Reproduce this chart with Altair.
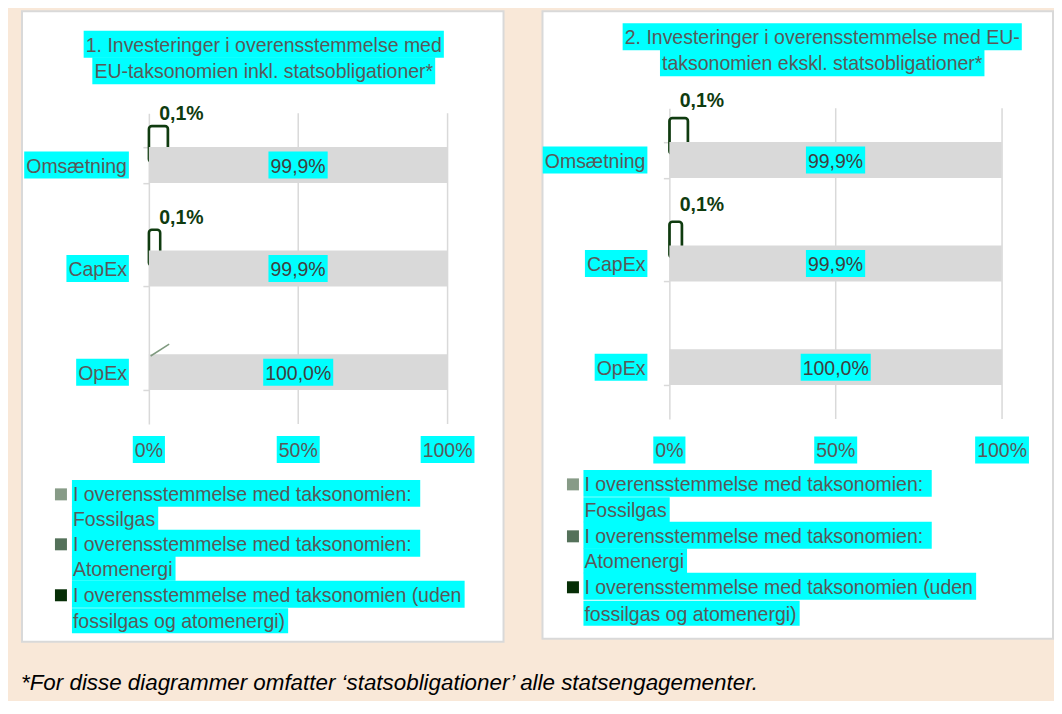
import altair as alt
import pandas as pd

# ---------------- data ----------------
categories = ["Omsætning", "CapEx", "OpEx"]

p1_title = ["1. Investeringer i overensstemmelse med", "EU-taksonomien inkl. statsobligationer*"]
p1_aligned = [0.001, 0.001, 0.0]
p1_aligned_text = ["0,1%", "0,1%", ""]
p1_aligned_drawn = [0.064, 0.038, 0.0]   # extent of the outlined bar as drawn in the picture
p1_rest = [0.999, 0.999, 1.0]
p1_rest_text = ["99,9%", "99,9%", "100,0%"]

p2_title = ["2. Investeringer i overensstemmelse med EU-", "taksonomien ekskl. statsobligationer*"]
p2_aligned = [0.001, 0.001, 0.0]
p2_aligned_text = ["0,1%", "0,1%", ""]
p2_aligned_drawn = [0.056, 0.038, 0.0]
p2_rest = [0.999, 0.999, 1.0]
p2_rest_text = ["99,9%", "99,9%", "100,0%"]

tick_values = [0.0, 0.5, 1.0]
tick_text = ["0%", "50%", "100%"]

legend_text = [
    ["I overensstemmelse med taksonomien: ", "Fossilgas"],
    ["I overensstemmelse med taksonomien: ", "Atomenergi"],
    ["I overensstemmelse med taksonomien (uden", "fossilgas og atomenergi)"],
]
legend_colors = ["#879B87", "#54715A", "#062E06"]

footnote = "*For disse diagrammer omfatter \u2018statsobligationer\u2019 alle statsengagementer."

# ---------------- style ----------------
FONT = "Liberation Sans"
FS = 19.5
TXT = "#595959"
CYAN = "#00FFFF"
GRID = "#D9D9D9"
DARK = "#0F3B0F"
PEACH = "#F9E8D8"

W_ARIAL = {
    " ": 278, "!": 278, "%": 889, "(": 333, ")": 333, "*": 389, ",": 278, "-": 333, ".": 278,
    ":": 278, "0": 556, "1": 556, "2": 556, "3": 556, "4": 556, "5": 556, "6": 556, "7": 556,
    "8": 556, "9": 556, "A": 667, "B": 667, "C": 722, "D": 722, "E": 667, "F": 611, "G": 778,
    "H": 722, "I": 278, "J": 500, "K": 667, "L": 556, "M": 833, "N": 722, "O": 778, "P": 667,
    "Q": 778, "R": 722, "S": 667, "T": 611, "U": 722, "V": 667, "W": 944, "X": 667, "Y": 667,
    "Z": 611, "a": 556, "b": 556, "c": 500, "d": 556, "e": 556, "f": 278, "g": 556, "h": 556,
    "i": 222, "j": 222, "k": 500, "l": 222, "m": 833, "n": 556, "o": 556, "p": 556, "q": 556,
    "r": 333, "s": 500, "t": 278, "u": 556, "v": 500, "w": 722, "x": 500, "y": 500, "z": 500,
    "æ": 889, "ø": 611, "å": 556, "\u2018": 222, "\u2019": 222,
}


def tw(s, fs=FS):
    return sum(W_ARIAL.get(c, 556) for c in s) * fs / 1000.0


def rect_path(w, h, anchor="center"):
    x0 = {"center": -w / 2, "left": 0.0, "right": -w}[anchor]
    y0 = -h / 2
    return f"M{x0:.2f},{y0:.2f}h{w:.2f}v{h:.2f}h{-w:.2f}Z"


HL = dict(filled=True, fill=CYAN, opacity=1, strokeWidth=0, size=4)
TXTMARK = dict(font=FONT, fontSize=FS, color=TXT, baseline="middle")
BOXH = 27
TDY = 1.5


def box_layer(cx, cy, text, anchor="center", h=BOXH):
    w = tw(text) + 4
    return alt.Chart(pd.DataFrame({"t": [text]})).mark_point(**HL).encode(
        x=alt.value(cx), y=alt.value(cy), shape=alt.value(rect_path(w, h, anchor))
    )


def text_layer(cx, cy, text, align="center", **kw):
    style = dict(TXTMARK)
    style.update(kw)
    return alt.Chart(pd.DataFrame({"t": [text]})).mark_text(align=align, dy=TDY, **style).encode(
        x=alt.value(cx), y=alt.value(cy), text="t:N"
    )


def panel(P):
    xs = alt.Scale(domain=[0, 1], range=[P["x0"], P["x1"]], nice=False, zero=False)
    ys = alt.Scale(domain=categories, range=[P["yt"], P["yb"]], paddingInner=0.653, paddingOuter=0.3265)
    yax = alt.Axis(labels=False, title=None, grid=False, tickBand="extent", offset=-P["x0"],
                   domainColor=GRID, domainWidth=1.5, tickColor=GRID, tickWidth=1.5, tickSize=6)

    def Y():
        return alt.Y("cat:N", scale=ys, axis=yax)

    df = pd.DataFrame({
        "cat": categories,
        "aligned": P["aligned"],
        "aligned_text": P["aligned_text"],
        "drawn": P["drawn"],
        "rest": P["rest"],
        "rest_text": P["rest_text"],
    })
    df["box"] = [rect_path(tw(t) + 4, BOXH) for t in df["rest_text"]]
    df["catbox"] = [rect_path(tw(t) + 4, BOXH, "right") for t in df["cat"]]

    ticks = pd.DataFrame({"v": tick_values, "lab": tick_text})
    ticks["box"] = [rect_path(tw(t) + 4, BOXH) for t in tick_text]

    layers = []
    layers.append(
        alt.Chart(ticks).transform_filter("datum.v > 0").mark_rule(color=GRID, strokeWidth=1.5).encode(
            x=alt.X("v:Q", scale=xs, axis=None), y=alt.value(P["yt"]), y2=alt.value(P["yb"]))
    )
    layers.append(
        alt.Chart(df).transform_filter("datum.drawn > 0").mark_bar(
            fillOpacity=0, stroke=DARK, strokeWidth=2.5, yOffset=P["goff"], cornerRadius=3
        ).encode(x=alt.X("drawn:Q", scale=xs, axis=None), y=Y())
    )
    layers.append(
        alt.Chart(df).mark_bar(color="#D9D9D9").encode(x=alt.X("rest:Q", scale=xs, axis=None), y=Y())
    )
    layers.append(
        alt.Chart(df).transform_calculate(mid="datum.rest / 2").mark_point(**HL).encode(
            x=alt.X("mid:Q", scale=xs, axis=None), y=Y(),
            shape=alt.Shape("box:N", scale=None, legend=None))
    )
    layers.append(
        alt.Chart(df).transform_calculate(mid="datum.rest / 2").mark_text(
            align="center", dy=TDY, font=FONT, fontSize=FS, color="#404040", baseline="middle"
        ).encode(x=alt.X("mid:Q", scale=xs, axis=None), y=Y(), text="rest_text:N")
    )
    layers.append(
        alt.Chart(df).transform_filter("datum.aligned_text != ''").mark_text(
            align="left", dx=10, dy=P["ldy"], font=FONT, fontSize=FS, fontWeight="bold",
            color=DARK, baseline="middle"
        ).encode(x=alt.X("aligned:Q", scale=xs, axis=None), y=Y(), text="aligned_text:N")
    )
    layers.append(
        alt.Chart(df).mark_point(**HL).encode(
            x=alt.value(P["ylab"]), y=Y(), shape=alt.Shape("catbox:N", scale=None, legend=None))
    )
    layers.append(
        alt.Chart(df).mark_text(align="right", dx=-2, dy=TDY, **TXTMARK).encode(
            x=alt.value(P["ylab"]), y=Y(), text="cat:N")
    )
    layers.append(
        alt.Chart(ticks).mark_point(**HL).encode(
            x=alt.X("v:Q", scale=xs, axis=None), y=alt.value(P["xlab"]),
            shape=alt.Shape("box:N", scale=None, legend=None))
    )
    layers.append(
        alt.Chart(ticks).mark_text(align="center", dy=TDY, **TXTMARK).encode(
            x=alt.X("v:Q", scale=xs, axis=None), y=alt.value(P["xlab"]), text="lab:N")
    )
    for line, ty in zip(P["title"], P["title_y"]):
        layers.append(box_layer(P["title_x"], ty, line))
        layers.append(text_layer(P["title_x"], ty, line))
    for (l1, l2), col, (y1, y2) in zip(legend_text, legend_colors, P["leg_y"]):
        layers.append(
            alt.Chart(pd.DataFrame({"c": [col]})).mark_square(size=144, filled=True, opacity=1).encode(
                x=alt.value(P["leg_sq"]), y=alt.value(y1 + 1), color=alt.Color("c:N", scale=None))
        )
        layers.append(box_layer(P["leg_tx"], y1, l1, "left", 27))
        layers.append(box_layer(P["leg_tx"], y2, l2, "left", 25))
        layers.append(text_layer(P["leg_tx"] + 1, y1, l1, "left"))
        layers.append(text_layer(P["leg_tx"] + 1, y2, l2, "left"))
    if P.get("leader"):
        layers.append(
            alt.Chart(pd.DataFrame({"a": [0.006], "b": [0.068]})).mark_rule(
                color="#7F9A7F", strokeWidth=1.5).encode(
                x=alt.X("a:Q", scale=xs, axis=None), x2="b:Q",
                y=alt.value(345), y2=alt.value(333))
        )
    return alt.layer(*layers).properties(width=P["W"], height=P["H"])


P1 = dict(W=482, H=631, x0=127, x1=426, yt=102, yb=413, goff=-21, ldy=-51,
          aligned=p1_aligned, aligned_text=p1_aligned_text, drawn=p1_aligned_drawn,
          rest=p1_rest, rest_text=p1_rest_text,
          ylab=107, xlab=438.5, title=p1_title, title_x=242, title_y=[33, 59.5],
          leg_sq=39, leg_tx=50, leg_y=[(482.5, 507.5), (532.5, 557.5), (583.5, 610)],
          leader=True)
P2 = dict(W=511, H=628, x0=127, x1=460, yt=97, yb=408, goff=-24, ldy=-59,
          aligned=p2_aligned, aligned_text=p2_aligned_text, drawn=p2_aligned_drawn,
          rest=p2_rest, rest_text=p2_rest_text,
          ylab=105, xlab=439, title=p2_title, title_x=280, title_y=[25.5, 51.5],
          leg_sq=30.5, leg_tx=41, leg_y=[(472.5, 499), (524.5, 550), (575.5, 602.5)],
          leader=False)

chart = alt.hconcat(panel(P1), panel(P2), spacing=37).properties(
    title=alt.TitleParams(footnote, orient="bottom", anchor="start", font=FONT, fontSize=22.4,
                          fontStyle="italic", fontWeight="normal", color="black",
                          offset=29, baseline="top"),
    padding={"left": 13, "top": 2, "right": 0, "bottom": 6},
    background=PEACH,
).configure_view(fill="white", stroke="#D9D9D9", strokeWidth=2).configure_concat(spacing=37)

chart.save("out.html", embed_options={"renderer": "svg", "actions": False})
